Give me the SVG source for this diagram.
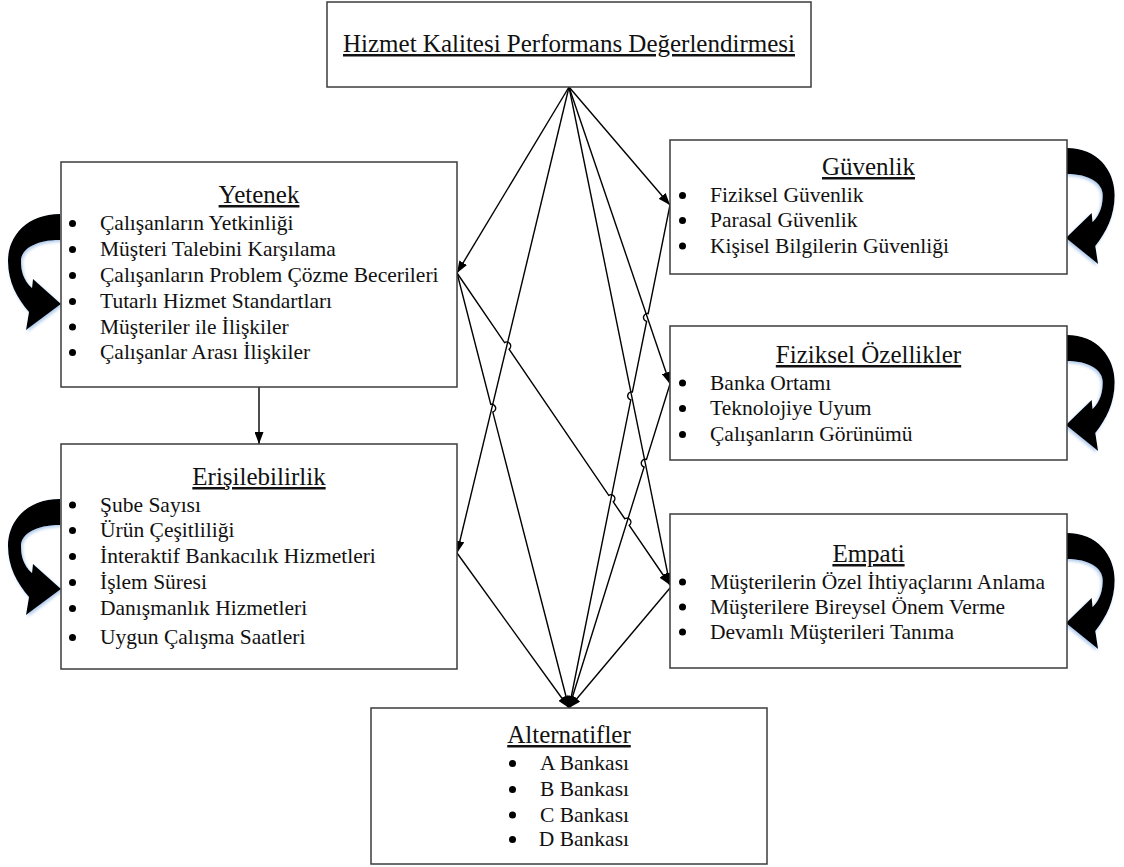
<svg xmlns="http://www.w3.org/2000/svg" width="1124" height="867" viewBox="0 0 1124 867">
<style>
.box{fill:#fff;stroke:#3c3c3c;stroke-width:1.5}
.title{font-family:"Liberation Serif","Times New Roman",serif;font-size:25px;fill:#111;text-anchor:middle;text-decoration:underline}
.item{font-family:"Liberation Serif","Times New Roman",serif;font-size:21.5px;fill:#111}
.bul{fill:#000}
.edge{fill:none;stroke:#000;stroke-width:1.4;marker-end:url(#ah)}
.curl{fill:#000;filter:url(#glow)}
</style>
<defs>
<marker id="ah" viewBox="0 0 12 9" refX="12" refY="4.5" markerWidth="12" markerHeight="9" markerUnits="userSpaceOnUse" orient="auto">
<path d="M0,0 L12,4.5 L0,9 z" fill="#000"/>
</marker>
<filter id="glow" x="-30%" y="-30%" width="160%" height="160%">
<feDropShadow dx="1.5" dy="2" stdDeviation="1.5" flood-color="#5b8fd0" flood-opacity="0.45"/>
</filter>
<path id="curlL" d="M60,214 C27,214 8,236 8,261 C8,282 17,298 29,312 L26,330 L61,304 L33,279 L32,288 C23,280 21,270 21,261 C21,249 36,240 60,240 Z"/>
</defs>

<g id="connectors">
<path class="edge" d="M569,87 L457,273"/>
<path class="edge" d="M569,87 L670,205"/>
<path class="edge" d="M569,87 L457,553"/>
<path class="edge" d="M569,87 L670,384"/>
<path class="edge" d="M569,87 L670,585"/>
<path class="edge" d="M457,273 L490.8,404.33 A4,4 0 0 1 492.8,412.07 L569,708"/>
<path class="edge" d="M457,273 L504.55,342.6 A4,4 0 0 1 509.06,349.2 L608.75,495.3 A4,4 0 0 1 613.26,501.9 L624.75,518.7 A4,4 0 0 1 629.26,525.3 L670,585"/>
<path class="edge" d="M457,553 L569,708"/>
<path class="edge" d="M670,205 L648.19,313.58 A4,4 0 0 0 646.61,321.42 L632.39,391.98 A4,4 0 0 0 630.81,399.82 L569,708"/>
<path class="edge" d="M670,384 L646.49,459.38 A4,4 0 0 0 644.11,467.02 L569,708"/>
<path class="edge" d="M670,588 L569,708"/>
<path class="edge" d="M259,387 L259,444"/>
</g>

<g id="curls">
<use href="#curlL" class="curl"/>
<use href="#curlL" class="curl" transform="translate(0,285)"/>
<use href="#curlL" class="curl" transform="translate(1122,-66) scale(-0.92,1)"/>
<use href="#curlL" class="curl" transform="translate(1122,121) scale(-0.92,1)"/>
<use href="#curlL" class="curl" transform="translate(1122,319) scale(-0.92,1)"/>
</g>

<g id="goal">
<rect class="box" x="327" y="2" width="484" height="85"/>
<text class="title" x="569" y="52">Hizmet Kalitesi Performans Değerlendirmesi</text>
</g>

<g id="yetenek">
<rect class="box" x="61" y="162" width="396" height="225"/>
<text class="title" x="259" y="203">Yetenek</text>
<circle class="bul" cx="72.5" cy="223.5" r="3.5"/><text class="item" x="100" y="230">Çalışanların Yetkinliği</text>
<circle class="bul" cx="72.5" cy="249.5" r="3.5"/><text class="item" x="100" y="256">Müşteri Talebini Karşılama</text>
<circle class="bul" cx="72.5" cy="275.5" r="3.5"/><text class="item" x="100" y="282">Çalışanların Problem Çözme Becerileri</text>
<circle class="bul" cx="72.5" cy="301.5" r="3.5"/><text class="item" x="100" y="308">Tutarlı Hizmet Standartları</text>
<circle class="bul" cx="72.5" cy="327" r="3.5"/><text class="item" x="100" y="333.5">Müşteriler ile İlişkiler</text>
<circle class="bul" cx="72.5" cy="352.5" r="3.5"/><text class="item" x="100" y="359">Çalışanlar Arası İlişkiler</text>
</g>

<g id="erisilebilirlik">
<rect class="box" x="61" y="444" width="396" height="225"/>
<text class="title" x="259" y="485">Erişilebilirlik</text>
<circle class="bul" cx="72.5" cy="505" r="3.5"/><text class="item" x="100" y="511.5">Şube Sayısı</text>
<circle class="bul" cx="72.5" cy="530.5" r="3.5"/><text class="item" x="100" y="537">Ürün Çeşitliliği</text>
<circle class="bul" cx="72.5" cy="556.5" r="3.5"/><text class="item" x="100" y="563">İnteraktif Bankacılık Hizmetleri</text>
<circle class="bul" cx="72.5" cy="582.5" r="3.5"/><text class="item" x="100" y="589">İşlem Süresi</text>
<circle class="bul" cx="72.5" cy="608.5" r="3.5"/><text class="item" x="100" y="615">Danışmanlık Hizmetleri</text>
<circle class="bul" cx="72.5" cy="637.5" r="3.5"/><text class="item" x="100" y="644">Uygun Çalışma Saatleri</text>
</g>

<g id="guvenlik">
<rect class="box" x="670" y="140" width="397" height="134"/>
<text class="title" x="868.5" y="175">Güvenlik</text>
<circle class="bul" cx="682.5" cy="195.5" r="3.5"/><text class="item" x="710" y="202">Fiziksel Güvenlik</text>
<circle class="bul" cx="682.5" cy="220.5" r="3.5"/><text class="item" x="710" y="227">Parasal Güvenlik</text>
<circle class="bul" cx="682.5" cy="246" r="3.5"/><text class="item" x="710" y="252.5">Kişisel Bilgilerin Güvenliği</text>
</g>

<g id="fiziksel">
<rect class="box" x="670" y="326" width="397" height="134"/>
<text class="title" x="868.5" y="363">Fiziksel Özellikler</text>
<circle class="bul" cx="682.5" cy="383" r="3.5"/><text class="item" x="710" y="389.5">Banka Ortamı</text>
<circle class="bul" cx="682.5" cy="408.5" r="3.5"/><text class="item" x="710" y="415">Teknolojiye Uyum</text>
<circle class="bul" cx="682.5" cy="434.5" r="3.5"/><text class="item" x="710" y="441">Çalışanların Görünümü</text>
</g>

<g id="empati">
<rect class="box" x="670" y="514" width="397" height="154"/>
<text class="title" x="868.5" y="562">Empati</text>
<circle class="bul" cx="682.5" cy="582" r="3.5"/><text class="item" x="710" y="588.5">Müşterilerin Özel İhtiyaçlarını Anlama</text>
<circle class="bul" cx="682.5" cy="607" r="3.5"/><text class="item" x="710" y="613.5">Müşterilere Bireysel Önem Verme</text>
<circle class="bul" cx="682.5" cy="632" r="3.5"/><text class="item" x="710" y="638.5">Devamlı Müşterileri Tanıma</text>
</g>

<g id="alternatifler">
<rect class="box" x="371" y="708" width="396" height="156"/>
<text class="title" x="569" y="743">Alternatifler</text>
<circle class="bul" cx="512.5" cy="763.5" r="3.5"/><text class="item" x="629" y="770" text-anchor="end">A Bankası</text>
<circle class="bul" cx="512.5" cy="789.5" r="3.5"/><text class="item" x="629" y="796" text-anchor="end">B Bankası</text>
<circle class="bul" cx="512.5" cy="815" r="3.5"/><text class="item" x="629" y="821.5" text-anchor="end">C Bankası</text>
<circle class="bul" cx="512.5" cy="839.5" r="3.5"/><text class="item" x="629" y="846" text-anchor="end">D Bankası</text>
</g>
</svg>
